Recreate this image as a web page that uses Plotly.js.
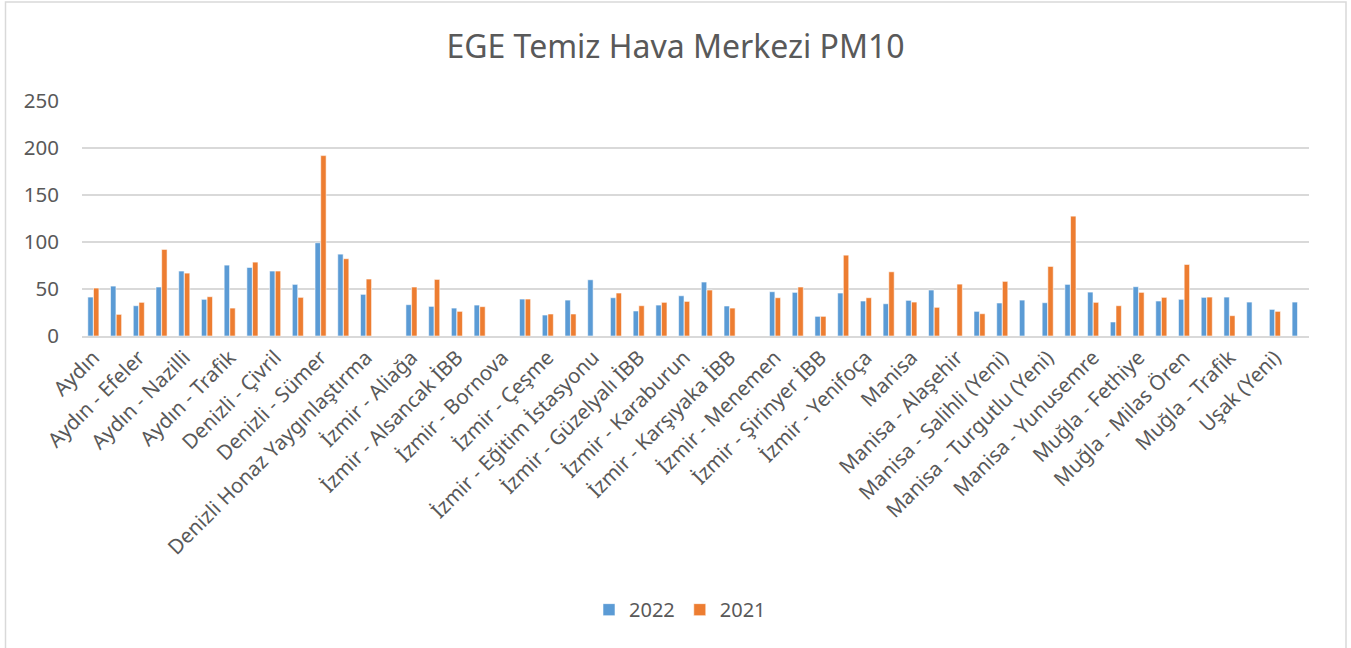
<!DOCTYPE html>
<html>
<head>
<meta charset="utf-8">
<script src="https://cdn.plot.ly/plotly-3.0.1.min.js"></script>
<style>html,body{margin:0;padding:0;background:#fff;}#chart{width:1351px;height:648px;}</style>
</head>
<body>
<div id="chart"></div>
<script>
const categories = [
  "Aydın", "Aydın - Didim", "Aydın - Efeler", "Aydın - Kuşadası", "Aydın - Nazilli", "Aydın - Söke",
  "Aydın - Trafik", "Denizli", "Denizli - Çivril", "Denizli - Merkezefendi", "Denizli - Sümer", "Denizli - Trafik",
  "Denizli Honaz Yaygınlaştırma", "İzmir", "İzmir - Aliağa", "İzmir - Aliağa (Yeni)", "İzmir - Alsancak İBB", "İzmir - Bayraklı İBB",
  "İzmir - Bornova", "İzmir - Bornova İBB", "İzmir - Çeşme", "İzmir - Çiğli İBB", "İzmir - Eğitim İstasyonu", "İzmir - Gaziemir İBB",
  "İzmir - Güzelyalı İBB", "İzmir - Karabağlar", "İzmir - Karaburun", "İzmir - Karşıyaka", "İzmir - Karşıyaka İBB", "İzmir - Kemalpaşa",
  "İzmir - Menemen", "İzmir - Seferihisar", "İzmir - Şirinyer İBB", "İzmir - Torbalı", "İzmir - Yenifoça", "İzmir - Yeşilyurt",
  "Manisa", "Manisa - Akhisar", "Manisa - Alaşehir", "Manisa - Salihli", "Manisa - Salihli (Yeni)", "Manisa - Soma",
  "Manisa - Turgutlu (Yeni)", "Manisa - Turgutlu OSB", "Manisa - Yunusemre", "Muğla - Bodrum", "Muğla - Fethiye", "Muğla - Marmaris",
  "Muğla - Milas Ören", "Muğla - Milas Yeniköy", "Muğla - Trafik", "Uşak", "Uşak (Yeni)", "Uşak - Trafik"
];
const values2022 = [
  41.4, 53.1, 32.2, 52.1, 69.1, 39.0, 75.4, 72.9, 69.1, 54.9, 99.2, 87.1,
  44.3, null, 33.3, 31.5, 29.7, 32.9, null, 39.3, 22.3, 38.2, 59.8, 40.7,
  26.6, 32.9, 42.8, 57.4, 31.9, null, 47.1, 46.4, 20.9, 45.7, 37.2, 34.3,
  37.9, 48.9, null, 26.2, 35.1, 38.2, 35.4, 54.9, 46.7, 14.9, 52.4, 37.2,
  39.0, 41.1, 41.4, 36.1, 28.3, 36.1
];
const values2021 = [
  51.0, 23.0, 35.8, 92.1, 66.9, 41.8, 29.7, 78.6, 69.1, 41.1, 191.9, 82.2,
  60.6, null, 52.1, 60.2, 26.2, 31.2, null, 39.3, 23.4, 23.4, null, 45.7,
  32.2, 35.8, 36.8, 48.9, 29.7, null, 40.7, 52.1, 20.9, 86.0, 40.7, 68.3,
  36.1, 30.5, 55.2, 23.7, 58.1, null, 74.0, 127.5, 35.8, 32.2, 46.4, 41.1,
  76.1, 41.4, 21.6, null, 26.2, null
];
const seriesNames = ["2022", "2021"];
const yTicks = [0, 50, 100, 150, 200, 250];
const chartTitle = "EGE Temiz Hava Merkezi PM10";

const shownTicks = categories.filter((c, i) => i % 2 === 0);

const FONT = "Noto Sans, Open Sans, sans-serif";
const TXT = "#595959";
const FS = 20.5;

const traces = [
  {type: "bar", name: seriesNames[0], x: categories, y: values2022,
   marker: {color: "#5B9BD5", line: {color: "rgba(255,255,255,0.7)", width: 0.8}}, hoverinfo: "x+y+name"},
  {type: "bar", name: seriesNames[1], x: categories, y: values2021,
   marker: {color: "#ED7D31", line: {color: "rgba(255,255,255,0.7)", width: 0.8}}, hoverinfo: "x+y+name"}
];

const L = 82, R = 1309, T = 100.7, B = 336;
const W = R - L, H = B - T;
const px2x = p => (p - L) / W;
const py2y = p => (B - p) / H;

const layout = {
  width: 1351, height: 648,
  margin: {l: L, r: 1351 - R, t: T, b: 648 - B, pad: 0},
  paper_bgcolor: "#ffffff", plot_bgcolor: "#ffffff",
  font: {family: FONT, color: TXT, size: FS},
  title: {text: chartTitle, font: {family: FONT, size: 32, color: TXT},
          x: 0.5, xref: "container", xanchor: "center", y: 1 - 47/648, yref: "container", yanchor: "middle"},
  barmode: "group", bargap: 0.5, bargroupgap: 0.05,
  showlegend: true,
  legend: {orientation: "h", x: px2x(680), xanchor: "center", y: py2y(610), yanchor: "middle",
           font: {family: FONT, size: 20, color: TXT}, itemwidth: 30, traceorder: "normal"},
  xaxis: {type: "category", categoryorder: "array", categoryarray: categories,
          range: [-0.5, categories.length - 0.5],
          tickmode: "array", tickvals: shownTicks, ticktext: shownTicks,
          tickangle: -45, tickfont: {family: FONT, size: FS, color: TXT},
          showgrid: false, showline: true, linecolor: "#D9D9D9", linewidth: 1.5,
          ticks: "", zeroline: false, automargin: false, fixedrange: true},
  yaxis: {range: [0, 250], tickmode: "array", tickvals: yTicks,
          tickfont: {family: FONT, size: FS, color: TXT},
          showgrid: true, gridcolor: "#D9D9D9", gridwidth: 1.5,
          zeroline: false, showline: false, ticks: "", ticklabelstandoff: 22,
          automargin: false, fixedrange: true},
  shapes: [
    {type: "rect", xref: "paper", yref: "paper",
     x0: px2x(5.5), x1: px2x(1346), y0: py2y(660), y1: py2y(1.5),
     line: {color: "#D9D9D9", width: 1.5}, fillcolor: "rgba(0,0,0,0)", layer: "below"}
  ]
};

Plotly.newPlot("chart", traces, layout, {displayModeBar: false, staticPlot: true});
</script>
</body>
</html>
